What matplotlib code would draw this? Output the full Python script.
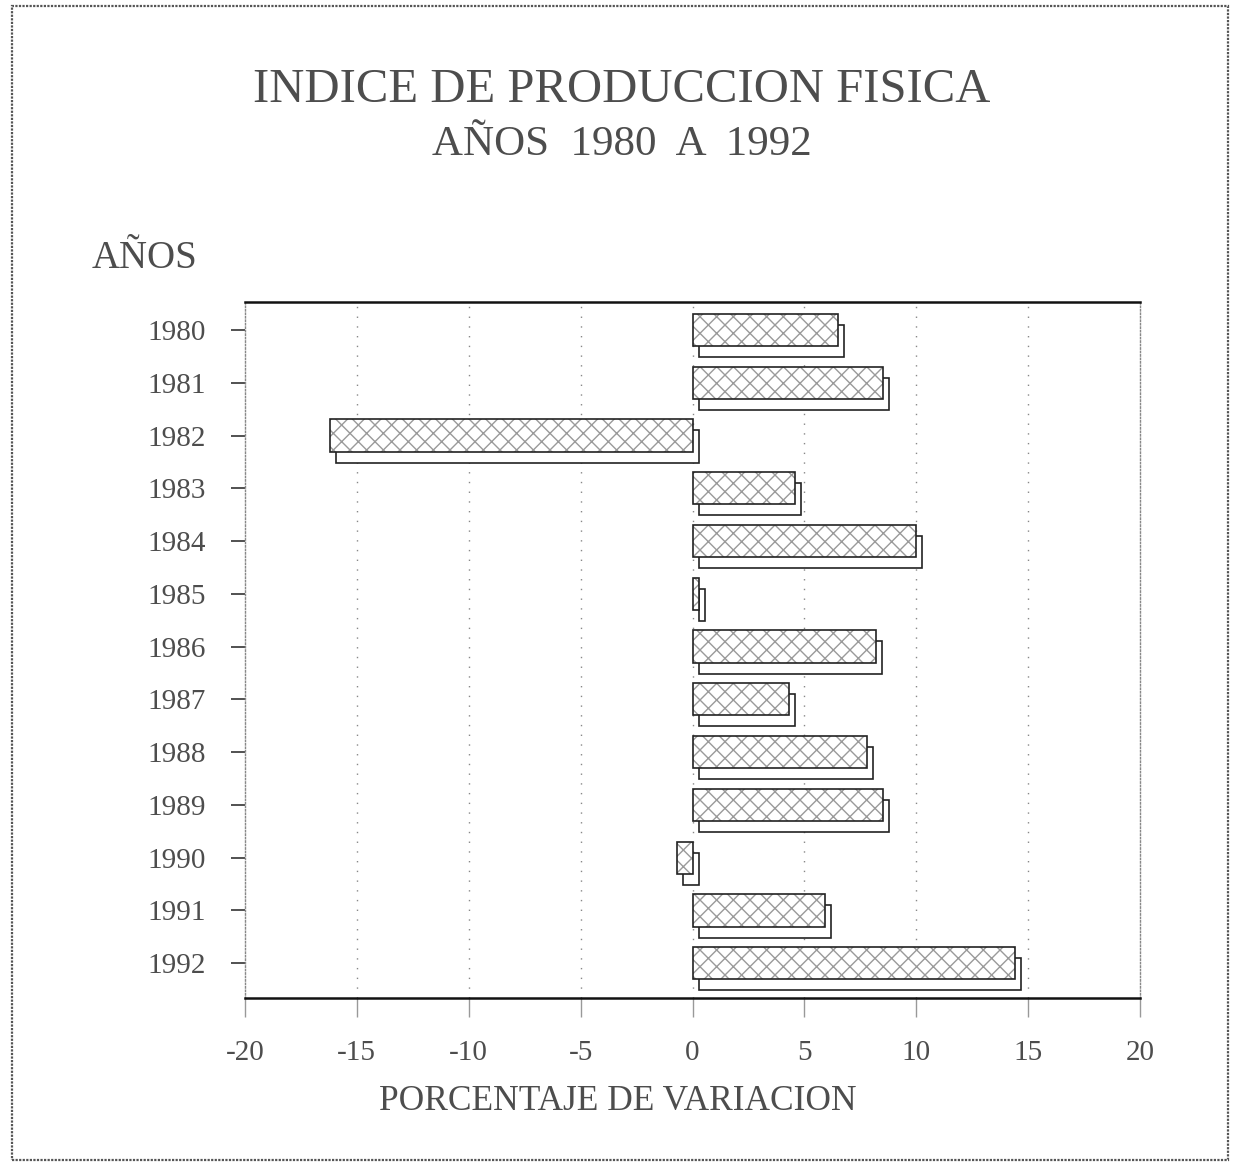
import numpy as np
import matplotlib
matplotlib.use("Agg")
import matplotlib.pyplot as plt
import matplotlib.transforms as mtransforms
from matplotlib.patches import Rectangle

years = ["1980", "1981", "1982", "1983", "1984", "1985", "1986",
         "1987", "1988", "1989", "1990", "1991", "1992"]
variation = [6.5, 8.5, -16.2, 4.6, 10.0, 0.3, 8.2, 4.3, 7.8, 8.5, -0.7, 5.9, 14.4]
xticks = [-20, -15, -10, -5, 0, 5, 10, 15, 20]
xtick_labels = ["-20", "-15", "-10", "-5", "0", "5", "10", "15", "20"]

title = "INDICE DE PRODUCCION FISICA"
subtitle = "AÑOS  1980  A  1992"
ylabel = "AÑOS"
xlabel = "PORCENTAJE DE VARIACION"

plt.rcParams['font.family'] = ['Liberation Serif', 'DejaVu Serif']
TXT = "#4d4d4d"

W, H = 1238, 1166
fig = plt.figure(figsize=(W / 100, H / 100), dpi=100)
fig.patch.set_facecolor("white")

# outer frame
fig.add_artist(Rectangle((12 / W, 6 / H), (1228 - 12) / W, (1160 - 6) / H,
                         transform=fig.transFigure, fill=False,
                         edgecolor="#555555", lw=1.6, linestyle=(0, (1, 0.6))))

ax = fig.add_axes([245 / W, 1 - 998 / H, (1140 - 245) / W, (998 - 302) / H])
pos = np.arange(len(years))
bh = 0.61

# depth face (shadow) offset to lower-right
shadow_tr = mtransforms.offset_copy(ax.transData, fig=fig, x=6, y=-11, units='dots')
ax.barh(pos, variation, height=bh, transform=shadow_tr, color="white",
        edgecolor="#222222", lw=1.2, zorder=2)
# front face: hatch then outline
ax.barh(pos, variation, height=bh, color="white", edgecolor="#9a9a9a",
        hatch="xx", lw=0, zorder=3)
ax.barh(pos, variation, height=bh, fill=False, edgecolor="#222222",
        lw=1.2, zorder=4)

ax.set_xlim(-20, 20)
ax.set_ylim(12.66, -0.53)
ax.set_xticks(xticks)
ax.set_xticklabels(xtick_labels)
ax.set_yticks(pos)
ax.set_yticklabels(years)

for x in xticks[1:-1]:
    ax.axvline(x, color="#888888", lw=1.0, linestyle=(0, (1, 6)), zorder=1)

ax.tick_params(axis="y", length=10, width=1.2, color="#333333", pad=18,
               labelsize=21, labelcolor=TXT, direction="out")
ax.tick_params(axis="x", length=14, width=1.0, color="#999999", pad=16,
               labelsize=21, labelcolor=TXT, direction="out")

for s in ["top", "bottom"]:
    ax.spines[s].set_color("#111111")
    ax.spines[s].set_linewidth(1.8)
for s in ["left", "right"]:
    ax.spines[s].set_color("#888888")
    ax.spines[s].set_linewidth(1.0)
    ax.spines[s].set_linestyle((0, (1, 1.5)))

fig.text(622 / W, 1 - 90 / H, title, ha="center", va="center",
         fontsize=35, color=TXT)
fig.text(622 / W, 1 - 145 / H, subtitle, ha="center", va="center",
         fontsize=31, color=TXT)
fig.text(145 / W, 1 - 258 / H, ylabel, ha="center", va="center",
         fontsize=28, color=TXT)
fig.text(618 / W, 1 - 1102 / H, xlabel, ha="center", va="center",
         fontsize=25.5, color=TXT)

fig.savefig("out.png", dpi=100, facecolor="white")
